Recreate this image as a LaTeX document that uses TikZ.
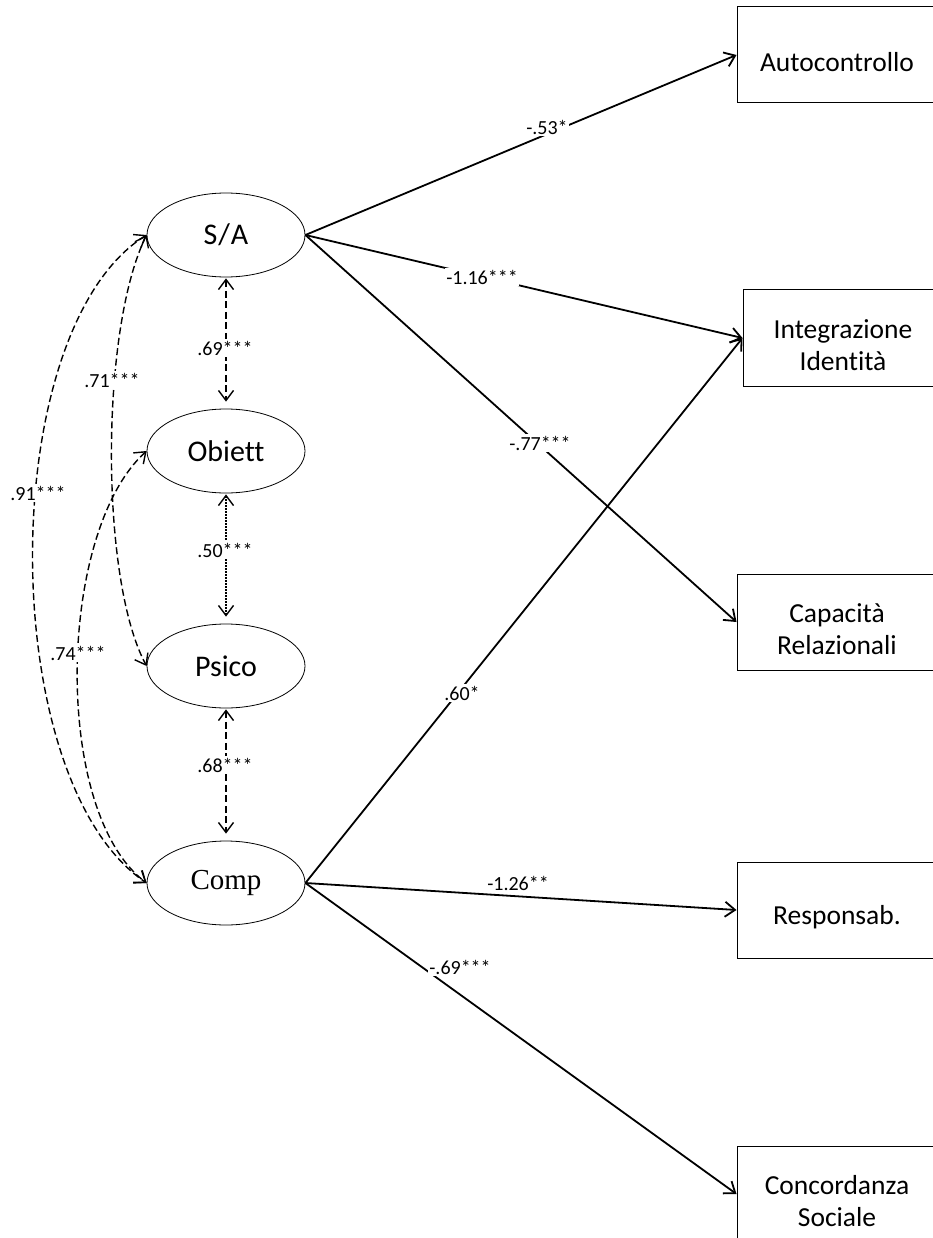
\documentclass[tikz,border=0pt]{standalone}
\usepackage{fontspec}
\setmainfont{Carlito}[Ligatures=NoCommon]
\newfontfamily\timesfont{Liberation Serif}
\usetikzlibrary{shapes.geometric,arrows.meta}

\begin{document}
\begin{tikzpicture}[x=1pt,y=-1pt,
  barb/.tip={Straight Barb[length=10pt,width=15pt]},
  latent/.style={ellipse,draw,line width=0.8pt,minimum width=158pt,minimum height=84pt,inner sep=0pt,font=\fontsize{30}{32}\selectfont},
  observed/.style={rectangle,draw,line width=1pt,minimum width=200pt,minimum height=96pt,inner sep=0pt},
  boxtext/.style={align=center,font=\fontsize{27.5}{32}\selectfont},
  effect/.style={line width=1.8pt,-barb},
  coef/.style={fill=white,inner sep=1.5pt,font=\fontsize{20}{22}\selectfont},
  cov/.style={line width=1.4pt,dash pattern=on 7pt off 3.5pt,barb-barb},
  covdot/.style={line width=1.4pt,dash pattern=on 1.5pt off 1.5pt,barb-barb},
]
\useasboundingbox (0,0) rectangle (933,1238);
\clip (0,0) rectangle (933,1238);

% latent factors
\node[latent] (sa) at (226,235) {S\kern1pt/\kern1ptA};
\node[latent] (ob) at (226,451) {Obiett};
\node[latent] (ps) at (226,666) {Psico};
\node[latent,font=\timesfont\fontsize{29}{30}\selectfont] (co) at (226,883) {Comp};

% observed outcomes
\node[observed] (au) at (837,55) {};
\node[observed] (ii) at (843,338) {};
\node[observed] (cr) at (837,622) {};
\node[observed] (re) at (837,910) {};
\node[observed] (cs) at (837,1194) {};
\node[boxtext] (aut) at ([yshift=-7pt]au.center) {Autocontrollo};
\node[boxtext] (iit) at ([yshift=-7pt]ii.center) {Integrazione\\Identità};
\node[boxtext] (crt) at ([yshift=-7pt]cr.center) {Capacità\\Relazionali};
\node[boxtext] (ret) at ([yshift=-7pt]re.center) {Responsab.};
\node[boxtext] (cst) at ([yshift=-7pt]cs.center) {Concordanza\\Sociale};

% structural paths
\draw[effect] (sa.east) -- (au.west);
\draw[effect] (sa.east) -- (ii.west);
\draw[effect] (sa.east) -- (cr.west);
\draw[effect] (co.east) -- (ii.west);
\draw[effect] (co.east) -- (re.west);
\draw[effect] (co.east) -- (cs.west);
\node[coef] (l1) at (547,127) {-.53*};
\node[coef] (l2) at (482,277) {-1.16***};
\node[coef] (l3) at (540,443) {-.77***};
\node[coef] (l4) at (462,693) {.60*};
\node[coef] (l5) at (518,883) {-1.26**};
\node[coef] (l6) at (460,967) {-.69***};

% covariances between adjacent factors
\draw[cov] ([yshift=-1pt]sa.south) -- ([yshift=7pt]ob.north);
\draw[covdot] ([yshift=-1pt]ob.south) -- ([yshift=7pt]ps.north);
\draw[cov] ([yshift=-1pt]ps.south) -- ([yshift=7pt]co.north);
\node[coef] (c1) at (225,348) {.69***};
\node[coef] (c2) at (225,550) {.50***};
\node[coef] (c3) at (225,765) {.68***};

% covariances between distant factors
\draw[cov] (sa.west) .. controls (-5,330) and (-5,780) .. (co.west);
\draw[cov] (sa.west) .. controls (100,330) and (100,580) .. (ps.west);
\draw[cov] (ob.west) .. controls (57,532) and (52,812) .. (co.west);
\node[coef] (c4) at (38,493) {.91***};
\node[coef] (c5) at (112,380) {.71***};
\node[coef] (c6) at (78,653) {.74***};
\end{tikzpicture}
\end{document}
